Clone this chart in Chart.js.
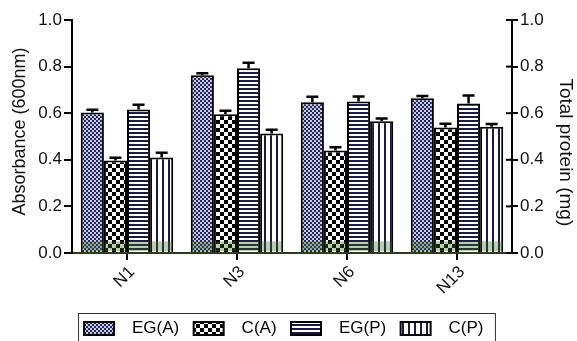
<!DOCTYPE html>
<html>
<head>
<meta charset="utf-8">
<script src="https://cdn.jsdelivr.net/npm/chart.js@4"></script>
<style>
  html, body { margin: 0; padding: 0; background: #fff; overflow: hidden; }
  #wrap { width: 577px; height: 341px; overflow: hidden; }
</style>
</head>
<body>
<div id="wrap"><canvas id="chart" width="577" height="347"></canvas></div>
<script>
// data
const categories = ["N1", "N3", "N6", "N13"];
const seriesNames = ["EG(A)", "C(A)", "EG(P)", "C(P)"];
const egA = [0.603, 0.763, 0.647, 0.664];
const egAErr = [0.012, 0.008, 0.024, 0.01];
const cA = [0.397, 0.595, 0.44, 0.539];
const cAErr = [0.012, 0.015, 0.014, 0.016];
const egP = [0.616, 0.793, 0.65, 0.642];
const egPErr = [0.02, 0.023, 0.022, 0.034];
const cP = [0.41, 0.513, 0.565, 0.542];
const cPErr = [0.02, 0.016, 0.012, 0.012];
const yTicks = [0, 0.2, 0.4, 0.6, 0.8, 1.0];

const FONT = "'Liberation Sans', Arial, Helvetica, sans-serif";

// Patterns
function makePattern(w, h, bg, draw) {
  const c = document.createElement("canvas");
  c.width = w; c.height = h;
  const g = c.getContext("2d");
  g.fillStyle = bg;
  g.fillRect(0, 0, w, h);
  draw(g);
  return document.getElementById("chart").getContext("2d").createPattern(c, "repeat");
}
const patEGA = makePattern(4, 4, "#c8c8e0", g => {
  g.fillStyle = "#262660";
  g.fillRect(0, 0, 2, 2);
  g.fillRect(2, 2, 2, 2);
});
const patCA = makePattern(8, 8, "#fff", g => {
  g.fillStyle = "#000";
  g.fillRect(0, 0, 4, 4);
  g.fillRect(4, 4, 4, 4);
});
const patEGP = makePattern(4, 4, "#fff", g => {
  g.fillStyle = "#1a1a48";
  g.fillRect(0, 0, 4, 2);
});
const patCP = makePattern(6, 4, "#fff", g => {
  g.fillStyle = "#1a1a48";
  g.fillRect(0, 0, 2, 4);
});

const values = [egA, cA, egP, cP];
const errors = [egAErr, cAErr, egPErr, cPErr];
const patterns = [patEGA, patCA, patEGP, patCP];

// upward error bars with caps, green tint at the foot of bars
const errorBars = {
  id: "errorBars",
  afterDatasetsDraw(chart) {
    const ctx = chart.ctx;
    const y = chart.scales.y;
    ctx.save();
    const footTop = y.getPixelForValue(0.05);
    ctx.fillStyle = "rgba(60,110,30,0.35)";
    chart.data.datasets.forEach((ds, i) => {
      chart.getDatasetMeta(i).data.forEach(bar => {
        ctx.fillRect(bar.x - bar.width / 2 + 1, footTop, bar.width - 2, bar.base - footTop - 1);
      });
    });
    ctx.strokeStyle = "#000";
    ctx.lineWidth = 2.5;
    chart.data.datasets.forEach((ds, i) => {
      chart.getDatasetMeta(i).data.forEach((bar, j) => {
        const top = y.getPixelForValue(ds.data[j] + errors[i][j]);
        ctx.beginPath();
        ctx.moveTo(bar.x, bar.y);
        ctx.lineTo(bar.x, top);
        ctx.moveTo(bar.x - 6, top);
        ctx.lineTo(bar.x + 6, top);
        ctx.stroke();
      });
    });
    ctx.restore();
  }
};

// inward half of the right axis ticks + legend frame
const extras = {
  id: "extras",
  afterDraw(chart) {
    const ctx = chart.ctx;
    const y2 = chart.scales.y2;
    ctx.save();
    ctx.strokeStyle = "#000";
    ctx.lineWidth = 2;
    y2.ticks.forEach(t => {
      const py = y2.getPixelForValue(t.value);
      ctx.beginPath();
      ctx.moveTo(y2.left - 6, py);
      ctx.lineTo(y2.left, py);
      ctx.stroke();
    });
    const boxes = chart.legend.legendHitBoxes;
    if (boxes && boxes.length) {
      const l = Math.min(...boxes.map(b => b.left)) - 6;
      const r = Math.max(...boxes.map(b => b.left + b.width)) + 2;
      const t = boxes[0].top - 7;
      ctx.strokeStyle = "#333";
      ctx.lineWidth = 1;
      ctx.strokeRect(l + 0.5, t + 0.5, r - l, 60);
    }
    ctx.restore();
  }
};

new Chart(document.getElementById("chart"), {
  type: "bar",
  data: {
    labels: categories,
    datasets: seriesNames.map((name, i) => ({
      label: name,
      data: values[i],
      backgroundColor: patterns[i],
      borderColor: "#000",
      borderWidth: 2,
      borderSkipped: "bottom",
      categoryPercentage: 0.84,
      barPercentage: 1.0
    }))
  },
  options: {
    responsive: false,
    animation: false,
    layout: { padding: { top: 20, left: 0, right: 0, bottom: 0 } },
    plugins: {
      tooltip: { enabled: false },
      legend: {
        position: "bottom",
        labels: {
          font: { family: FONT, size: 17 },
          color: "#111",
          boxWidth: 30,
          boxHeight: 13,
          padding: 5,
          generateLabels(chart) {
            return chart.data.datasets.map((ds, i) => ({
              text: "  " + ds.label + "  ",
              fillStyle: ds.backgroundColor,
              strokeStyle: "#000",
              lineWidth: 2,
              datasetIndex: i
            }));
          }
        }
      }
    },
    scales: {
      x: {
        grid: { offset: false, drawOnChartArea: false, tickLength: 7, color: "#000", lineWidth: 2 },
        border: { color: "#2a3d1e", width: 2 },
        ticks: {
          font: { family: FONT, size: 17 },
          color: "#111",
          maxRotation: 45,
          minRotation: 45,
          padding: 2,
          labelOffset: 5
        },
        afterFit(scale) { scale.height = 62; }
      },
      y: {
        position: "left",
        min: 0, max: 1,
        afterBuildTicks(scale) { scale.ticks = yTicks.map(v => ({ value: v })); },
        grid: { drawOnChartArea: false, tickLength: 8, color: "#000", lineWidth: 2 },
        border: { color: "#000", width: 2 },
        ticks: {
          font: { family: FONT, size: 17 },
          color: "#111",
          padding: 2,
          callback: v => v.toFixed(1)
        },
        title: {
          display: true,
          text: "  Absorbance (600nm)",
          font: { family: FONT, size: 18 },
          color: "#111",
          padding: { top: 9, bottom: 0 }
        },
        afterFit(scale) { scale.width = 72; }
      },
      y2: {
        position: "right",
        min: 0, max: 1,
        afterBuildTicks(scale) { scale.ticks = yTicks.map(v => ({ value: v })); },
        grid: { drawOnChartArea: false, tickLength: 6, color: "#000", lineWidth: 2 },
        border: { color: "#000", width: 2 },
        ticks: {
          font: { family: FONT, size: 17 },
          color: "#111",
          padding: 2,
          callback: v => v.toFixed(1)
        },
        title: {
          display: true,
          text: "      Total protein (mg)",
          font: { family: FONT, size: 19 },
          color: "#111",
          padding: 0
        },
        afterFit(scale) { scale.width = 65; }
      }
    }
  },
  plugins: [errorBars, extras]
});
</script>
</body>
</html>
